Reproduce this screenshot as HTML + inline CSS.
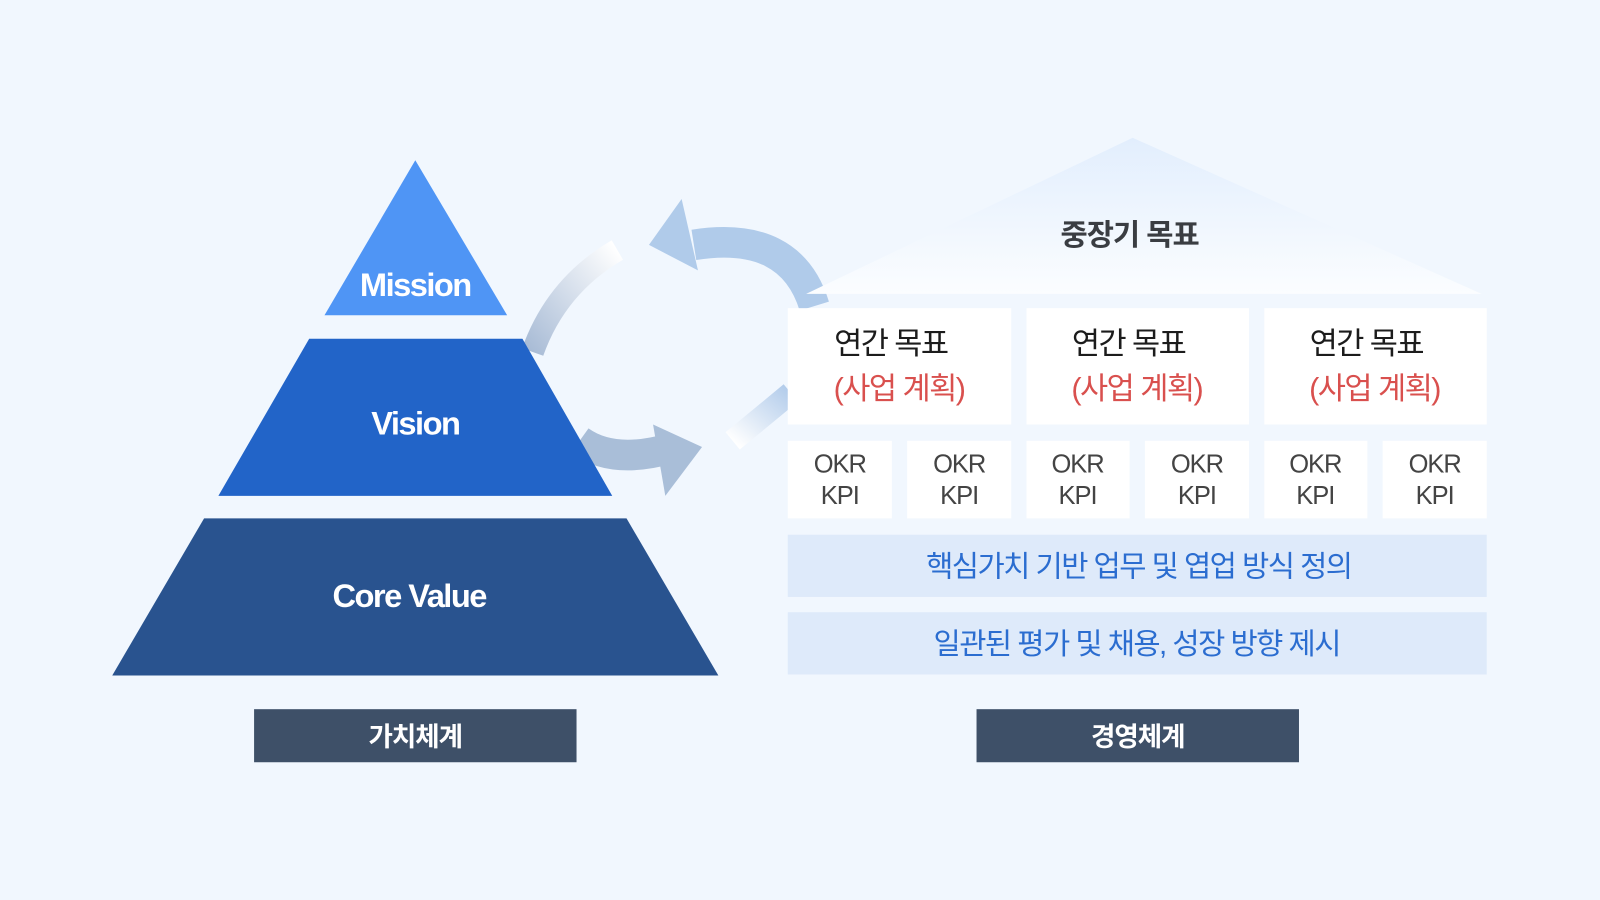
<!DOCTYPE html>
<html><head><meta charset="utf-8"><style>
html,body{margin:0;padding:0;background:#f1f7fe;}
svg{display:block}
text{font-family:"Liberation Sans","Noto Sans CJK KR",sans-serif;}
</style></head><body>
<svg width="1600" height="900" viewBox="0 0 1568 882" xmlns="http://www.w3.org/2000/svg">
<defs>
<linearGradient id="roof" x1="0" y1="0" x2="0" y2="1">
<stop offset="0" stop-color="#e2eefd"/><stop offset="1" stop-color="#fbfdff"/></linearGradient>
<linearGradient id="gl" x1="0" y1="1" x2="1" y2="0">
<stop offset="0" stop-color="#a9bcd6"/><stop offset="1" stop-color="#ffffff"/></linearGradient>
<linearGradient id="gr" x1="1" y1="0" x2="0" y2="1">
<stop offset="0" stop-color="#b4cdeb"/><stop offset="1" stop-color="#ffffff"/></linearGradient>
</defs>
<rect width="1568" height="882" fill="#f1f7fe"/>
<!-- arrows -->
<path d="M522 345 Q545 280 605 245" fill="none" stroke="url(#gl)" stroke-width="22"/>
<path d="M798 300 Q775 225 680 240" fill="none" stroke="#b0cbea" stroke-width="30"/>
<polygon points="636,240 668,195 684,265" fill="#b0cbea"/>
<path d="M568 432 Q600 455 655 440" fill="none" stroke="#a9bed8" stroke-width="30"/>
<polygon points="688,438 640,416 652,486" fill="#a9bed8"/>
<path d="M775 385 Q745 410 718 432" fill="none" stroke="url(#gr)" stroke-width="22"/>
<!-- pyramid -->
<polygon points="407,157 497,309 318,309" fill="#4f95f5"/>
<polygon points="303,332 512,332 600,486 214,486" fill="#2264c8"/>
<polygon points="200,508 614,508 704,662 110,662" fill="#29538f"/>
<text x="407" y="290" text-anchor="middle" font-size="32" font-weight="bold" fill="#fff" letter-spacing="-1.5">Mission</text>
<text x="407" y="426" text-anchor="middle" font-size="32" font-weight="bold" fill="#fff" letter-spacing="-1.5">Vision</text>
<text x="401" y="595" text-anchor="middle" font-size="32" font-weight="bold" fill="#fff" letter-spacing="-1.5">Core Value</text>
<rect x="249" y="695" width="316" height="52" fill="#3e5068"/>
<text x="407" y="731" text-anchor="middle" font-size="26" font-weight="bold" fill="#fff" letter-spacing="-1">가치체계</text>
<rect x="957" y="695" width="316" height="52" fill="#3e5068"/>
<text x="1115" y="731" text-anchor="middle" font-size="26" font-weight="bold" fill="#fff" letter-spacing="-1">경영체계</text>
<!-- roof -->
<polygon points="1110,135 1452,288 790,288" fill="url(#roof)"/>
<text x="1107" y="240" text-anchor="middle" font-size="29" font-weight="bold" fill="#3a3d42" letter-spacing="-1">중장기 목표</text>
<!-- annual -->
<g font-size="30" letter-spacing="-1.5">
<rect x="772" y="302" width="219" height="114" fill="#fff"/>
<rect x="1006" y="302" width="218" height="114" fill="#fff"/>
<rect x="1239" y="302" width="218" height="114" fill="#fff"/>
<text x="873" y="347" text-anchor="middle" fill="#1c1c1c">연간 목표</text>
<text x="881" y="391" text-anchor="middle" fill="#d9504e">(사업 계획)</text>
<text x="1106" y="347" text-anchor="middle" fill="#1c1c1c">연간 목표</text>
<text x="1114" y="391" text-anchor="middle" fill="#d9504e">(사업 계획)</text>
<text x="1339" y="347" text-anchor="middle" fill="#1c1c1c">연간 목표</text>
<text x="1347" y="391" text-anchor="middle" fill="#d9504e">(사업 계획)</text>
</g>
<g font-size="25" fill="#444" text-anchor="middle" letter-spacing="-1">
<rect x="772" y="432" width="102" height="76" fill="#fff"/>
<rect x="889" y="432" width="102" height="76" fill="#fff"/>
<rect x="1006" y="432" width="101" height="76" fill="#fff"/>
<rect x="1122" y="432" width="102" height="76" fill="#fff"/>
<rect x="1239" y="432" width="101" height="76" fill="#fff"/>
<rect x="1355" y="432" width="102" height="76" fill="#fff"/>
<text x="823" y="463">OKR</text><text x="823" y="494">KPI</text>
<text x="940" y="463">OKR</text><text x="940" y="494">KPI</text>
<text x="1056" y="463">OKR</text><text x="1056" y="494">KPI</text>
<text x="1173" y="463">OKR</text><text x="1173" y="494">KPI</text>
<text x="1289" y="463">OKR</text><text x="1289" y="494">KPI</text>
<text x="1406" y="463">OKR</text><text x="1406" y="494">KPI</text>
</g>
<rect x="772" y="524" width="685" height="61" fill="#deeafa"/>
<rect x="772" y="600" width="685" height="61" fill="#deeafa"/>
<text x="1116" y="565" text-anchor="middle" font-size="29" fill="#2b6dd0" letter-spacing="-1.5">핵심가치 기반 업무 및 엽업 방식 정의</text>
<text x="1114" y="641" text-anchor="middle" font-size="29" fill="#2b6dd0" letter-spacing="-1.5">일관된 평가 및 채용, 성장 방향 제시</text>
</svg>
</body></html>
